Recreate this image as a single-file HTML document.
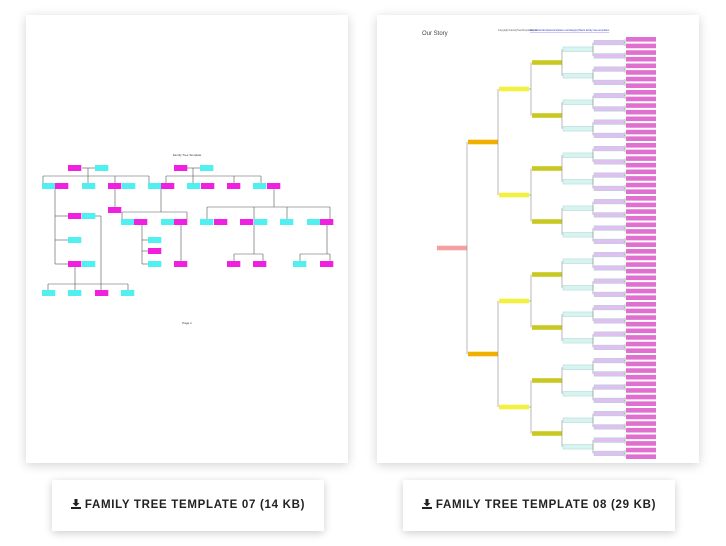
<!DOCTYPE html>
<html><head><meta charset="utf-8"><style>
html,body{margin:0;padding:0;background:#fff;width:726px;height:546px;overflow:hidden;font-family:"Liberation Sans",sans-serif}
.card{position:absolute;top:15px;width:322px;height:448px;background:#fff;box-shadow:0 2px 10px rgba(0,0,0,0.18)}
.btn{position:absolute;top:480px;width:272px;height:51px;background:#fff;box-shadow:0 2px 8px rgba(0,0,0,0.2);font-weight:bold;font-size:11.5px;letter-spacing:0.7px;color:#222;line-height:51px;text-align:center;white-space:nowrap}
.btn i{display:inline-block;width:10px;height:10px;margin-right:4px;vertical-align:-1px;position:relative}
svg.main{position:absolute;left:0;top:0}
</style></head><body>
<div class="card" style="left:26px"></div>
<div class="card" style="left:377px"></div>
<svg class="main" width="726" height="546" xmlns="http://www.w3.org/2000/svg">
<g stroke="#555" stroke-width="0.6" fill="none">
<line x1="82" y1="168" x2="95" y2="168"/><line x1="88" y1="168" x2="88" y2="176"/>
<line x1="43" y1="176" x2="149" y2="176"/>
<line x1="43" y1="176" x2="43" y2="183"/><line x1="88" y1="176" x2="88" y2="183"/><line x1="115" y1="176" x2="115" y2="183"/><line x1="149" y1="176" x2="149" y2="183"/>
<line x1="187" y1="168" x2="200" y2="168"/><line x1="193" y1="168" x2="193" y2="176"/>
<line x1="166" y1="176" x2="261" y2="176"/>
<line x1="166" y1="176" x2="166" y2="183"/><line x1="193" y1="176" x2="193" y2="183"/><line x1="234" y1="176" x2="234" y2="183"/><line x1="261" y1="176" x2="261" y2="183"/>
<line x1="115" y1="189" x2="115" y2="207"/>
<line x1="55" y1="189" x2="55" y2="264"/><line x1="55" y1="216" x2="68" y2="216"/><line x1="55" y1="240" x2="68" y2="240"/><line x1="55" y1="264" x2="68" y2="264"/>
<line x1="161" y1="189" x2="161" y2="212"/><line x1="122" y1="212" x2="187" y2="212"/><line x1="122" y1="212" x2="122" y2="219"/><line x1="187" y1="212" x2="187" y2="219"/>
<line x1="142" y1="225" x2="142" y2="264"/><line x1="142" y1="240" x2="148" y2="240"/><line x1="142" y1="251" x2="148" y2="251"/><line x1="142" y1="264" x2="148" y2="264"/>
<line x1="181" y1="225" x2="181" y2="261"/>
<line x1="274" y1="189" x2="274" y2="207"/><line x1="207" y1="207" x2="330" y2="207"/><line x1="207" y1="207" x2="207" y2="219"/><line x1="254" y1="207" x2="254" y2="219"/><line x1="287" y1="207" x2="287" y2="219"/><line x1="330" y1="207" x2="330" y2="219"/>
<line x1="254" y1="225" x2="254" y2="254"/><line x1="234" y1="254" x2="263" y2="254"/><line x1="234" y1="254" x2="234" y2="261"/><line x1="263" y1="254" x2="263" y2="261"/>
<line x1="327" y1="225" x2="327" y2="254"/><line x1="300" y1="254" x2="330" y2="254"/><line x1="300" y1="254" x2="300" y2="261"/><line x1="330" y1="254" x2="330" y2="261"/>
<line x1="75" y1="267" x2="75" y2="284"/><line x1="48" y1="284" x2="128" y2="284"/><line x1="48" y1="284" x2="48" y2="290"/><line x1="75" y1="284" x2="75" y2="290"/><line x1="101" y1="284" x2="101" y2="290"/><line x1="128" y1="284" x2="128" y2="290"/>
<line x1="95" y1="216" x2="101" y2="216"/><line x1="101" y1="216" x2="101" y2="284"/>
</g>
<g id="lt"></g>
<text x="187" y="156" font-size="3" text-anchor="middle" fill="#333">Family Tree Template</text>
<text x="187" y="324" font-size="3" text-anchor="middle" fill="#333">Page 1</text>
<g id="rt"></g>
<text x="422" y="35" font-size="6" fill="#444">Our Story</text>
<text x="498" y="31" font-size="2.5" fill="#555">Copyright FamilyTreeTemplates.net</text>
<text x="530" y="31" font-size="2.5" fill="#33c" text-decoration="underline">http://www.familytreetemplates.net/category/blank-family-tree-templates</text>
</svg>
<div class="btn" style="left:52px"><i><svg width="10" height="10" viewBox="0 0 10 10"><path d="M3.5 0h3v4h2L5 7.5 1.5 4h2z M0 8h10v2H0z" fill="#222"/></svg></i>FAMILY TREE TEMPLATE 07 (14 KB)</div>
<div class="btn" style="left:403px"><i><svg width="10" height="10" viewBox="0 0 10 10"><path d="M3.5 0h3v4h2L5 7.5 1.5 4h2z M0 8h10v2H0z" fill="#222"/></svg></i>FAMILY TREE TEMPLATE 08 (29 KB)</div>
<script>
var NS="http://www.w3.org/2000/svg";
function R(g,x,y,w,h,f,st){var r=document.createElementNS(NS,"rect");r.setAttribute("x",x);r.setAttribute("y",y);r.setAttribute("width",w);r.setAttribute("height",h);r.setAttribute("fill",f);if(st){r.setAttribute("stroke",st);r.setAttribute("stroke-width","0.4");}g.appendChild(r);}
function L(g,x1,y1,x2,y2){var l=document.createElementNS(NS,"line");l.setAttribute("x1",x1);l.setAttribute("y1",y1);l.setAttribute("x2",x2);l.setAttribute("y2",y2);l.setAttribute("stroke","#888");l.setAttribute("stroke-width","0.6");g.appendChild(l);}
var M="#f020e0",C="#50f0f0",lt=document.getElementById("lt");
var boxes=[[68,165,M],[95,165,C],[174,165,M],[200,165,C],
[42,183,C],[55,183,M],[82,183,C],[108,183,M],[122,183,C],[148,183,C],[161,183,M],[187,183,C],[201,183,M],[227,183,M],[253,183,C],[267,183,M],
[108,207,M],[68,213,M],[82,213,C],
[121,219,C],[134,219,M],[161,219,C],[174,219,M],[200,219,C],[214,219,M],[240,219,M],[254,219,C],[280,219,C],[307,219,C],[320,219,M],
[68,237,C],[148,237,C],[148,248,M],[148,261,C],
[68,261,M],[82,261,C],[174,261,M],[227,261,M],[253,261,M],[293,261,C],[320,261,M],
[42,290,C],[68,290,C],[95,290,M],[121,290,C]];
boxes.forEach(function(b){R(lt,b[0],b[1],13.3,6,b[2]);});
var rt=document.getElementById("rt");
var cols=[[437,"#f4a0a0"],[468,"#f0b000"],[499,"#f4f040"],[532,"#c8c820"],[563,"#d8f4f0"],[594,"#e0c0f0"],[626,"#e070d0"]];
var T0=36,H=424;
for(var lv=0;lv<7;lv++){var n=Math.pow(2,lv),sp=H/n,x=cols[lv][0];
 for(var i=0;i<n;i++){var cy=T0+(i+0.5)*sp;
  R(rt,x,cy-2.3,30,4.6,cols[lv][1],(lv==4||lv==5)?"#9cc":null);
  if(lv<6){var nx=cols[lv+1][0]-1,s2=H/(n*2);
   L(rt,x+30,cy,nx,cy);L(rt,nx,T0+(2*i+0.5)*s2,nx,T0+(2*i+1.5)*s2);}
 }}
</script>
</body></html>
